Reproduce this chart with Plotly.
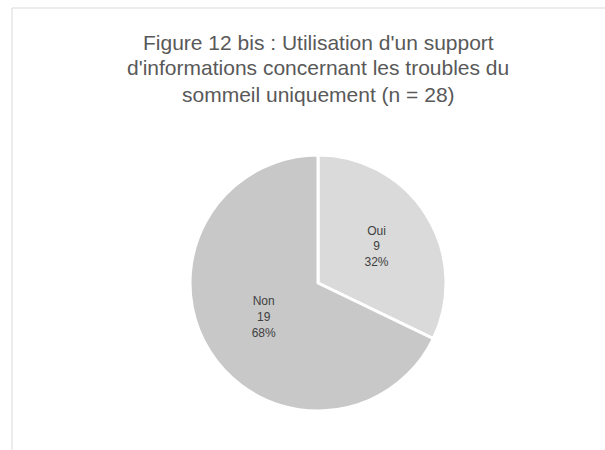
import plotly.graph_objects as go

# Survey answers: use of an information support about sleep disorders only
categories = ["Oui", "Non"]
counts = [9, 19]
slice_colors = ["#dadada", "#c8c8c8"]

title_lines = [
    "Figure 12 bis : Utilisation d'un support",
    "d'informations concernant les troubles du",
    "sommeil uniquement (n = 28)",
]

W, H = 605, 450

fig = go.Figure(
    go.Pie(
        labels=categories,
        values=counts,
        sort=False,
        direction="clockwise",
        rotation=0,
        marker=dict(colors=slice_colors, line=dict(color="#ffffff", width=3)),
        texttemplate="%{label}<br>%{value}<br>%{percent:.0%}",
        textposition="inside",
        insidetextorientation="horizontal",
        textfont=dict(family="Liberation Sans", size=12, color="#404040"),
        domain=dict(x=[(318 - 128) / W, (318 + 128) / W],
                    y=[1 - 411 / H, 1 - 155 / H]),
        showlegend=False,
        hoverinfo="label+value+percent",
    )
)

# Title, one annotation per line to keep the wide line spacing
for i, line in enumerate(title_lines):
    fig.add_annotation(
        text=line,
        xref="paper", yref="paper",
        x=318 / W, y=1 - (42 + 26 * i) / H,
        xanchor="center", yanchor="middle",
        showarrow=False,
        font=dict(family="Liberation Sans", size=21, color="#595959"),
    )

# Light chart-area frame
fig.add_shape(
    type="rect", xref="paper", yref="paper",
    x0=12 / W, x1=1.02, y0=-0.02, y1=1 - 8 / H,
    line=dict(color="#d9d9d9", width=1),
    fillcolor="rgba(0,0,0,0)",
)

fig.update_layout(
    width=W, height=H,
    margin=dict(l=0, r=0, t=0, b=0),
    paper_bgcolor="#ffffff",
    plot_bgcolor="#ffffff",
)

fig.write_html("out.html")
